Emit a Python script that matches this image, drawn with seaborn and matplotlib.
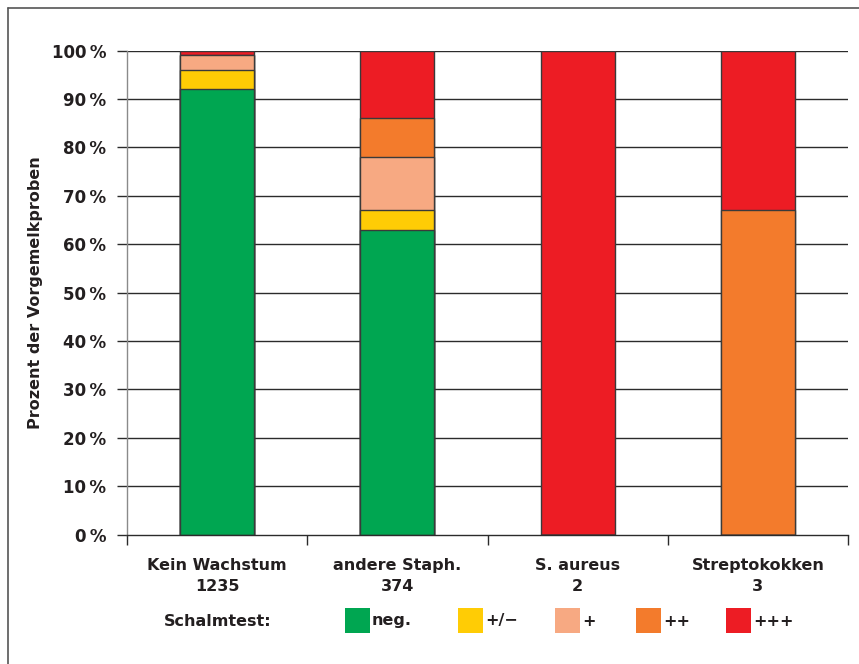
import matplotlib
matplotlib.use("Agg")
import matplotlib.pyplot as plt
import seaborn as sns
import pandas as pd
import numpy as np
from matplotlib.patches import Rectangle
from matplotlib.lines import Line2D

categories = ["Kein Wachstum\n1235", "andere Staph.\n374", "S. aureus\n2", "Streptokokken\n3"]
neg = [92.0, 63.0, 0.0, 0.0]
plus_minus = [4.0, 4.0, 0.0, 0.0]
plus = [3.0, 11.0, 0.0, 0.0]
plus2 = [0.0, 8.0, 0.0, 67.0]
plus3 = [1.0, 14.0, 100.0, 33.0]
series_names = ["neg.", "+/\u2212", "+", "++", "+++"]
colors = ["#00A651", "#FFCC05", "#F7A982", "#F37B2C", "#ED1C24"]
ytick_labels = [f"{v}\u2009%" for v in range(0, 101, 10)]

sns.set_theme(style="white")
plt.rcParams['font.family'] = ['DejaVu Sans']
plt.rcParams['font.weight'] = 'bold'

df = pd.DataFrame({"cat": categories, "neg": neg, "pm": plus_minus, "p": plus, "pp": plus2, "ppp": plus3})
cols = ["neg", "pm", "p", "pp", "ppp"]
cum = df[cols].cumsum(axis=1)

fig = plt.figure(figsize=(8.59, 6.64), dpi=100)
ax = fig.add_axes([127/859, 1-534.5/664, (848-127)/859, (534.5-50.5)/664])

# gridlines
for v in range(10, 101, 10):
    ax.axhline(v, color="#2b2b2b", lw=1.0, zorder=0)

# draw stacked bars: top-most cumulative first
for i in range(len(cols) - 1, -1, -1):
    sns.barplot(x=df["cat"], y=cum[cols[i]], color=colors[i], width=0.41,
                edgecolor="#3a3a3a", linewidth=1.0, saturation=1, ax=ax, zorder=2)

ax.set_xlim(-0.5, 3.5)
ax.set_ylim(0, 100)
ax.set_yticks(range(0, 101, 10))
ax.set_yticklabels(ytick_labels, fontsize=12, fontweight="bold", color="#231f20")
ax.tick_params(axis="y", length=7, width=1.0, color="#2b2b2b", pad=8, left=True)
ax.set_xticks(range(4))
ax.set_xticklabels(categories, fontsize=11.5, fontweight="bold", color="#231f20", linespacing=1.45)
ax.set_xticks([-0.5, 0.5, 1.5, 2.5, 3.5], minor=True)
ax.tick_params(axis="x", which="major", length=0, pad=17)
ax.tick_params(axis="x", which="minor", length=7, width=1.0, color="#2b2b2b", bottom=True)
ax.set_xlabel("")
ax.set_ylabel("Prozent der Vorgemelkproben", fontsize=11.5, fontweight="bold", color="#231f20", labelpad=6)

for s in ["top", "right"]:
    ax.spines[s].set_visible(False)
ax.spines["left"].set_color("#8a8a8a")
ax.spines["left"].set_linewidth(1.0)
ax.spines["bottom"].set_color("#2b2b2b")
ax.spines["bottom"].set_linewidth(1.0)

# legend row
W, H = 859, 664
fig.text(218/W, 1-621/H, "Schalmtest:", ha="center", va="center", fontsize=11.5, fontweight="bold", color="#231f20")
patch_x = [345, 458, 555, 636, 726]
for x0, c, name in zip(patch_x, colors, series_names):
    fig.patches.append(Rectangle((x0/W, 1-633/H), 25/W, 25/H, transform=fig.transFigure,
                                 facecolor=c, edgecolor="none"))
    fig.text((x0+27)/W, 1-621/H, name, ha="left", va="center", fontsize=11.5, fontweight="bold", color="#231f20")

# frame (left and top)
fig.add_artist(Line2D([8/W, 8/W], [0, 1-8/H], transform=fig.transFigure, color="#555555", lw=1.2))
fig.add_artist(Line2D([8/W, 1], [1-8/H, 1-8/H], transform=fig.transFigure, color="#555555", lw=1.2))

fig.savefig("out.png", dpi=100)
